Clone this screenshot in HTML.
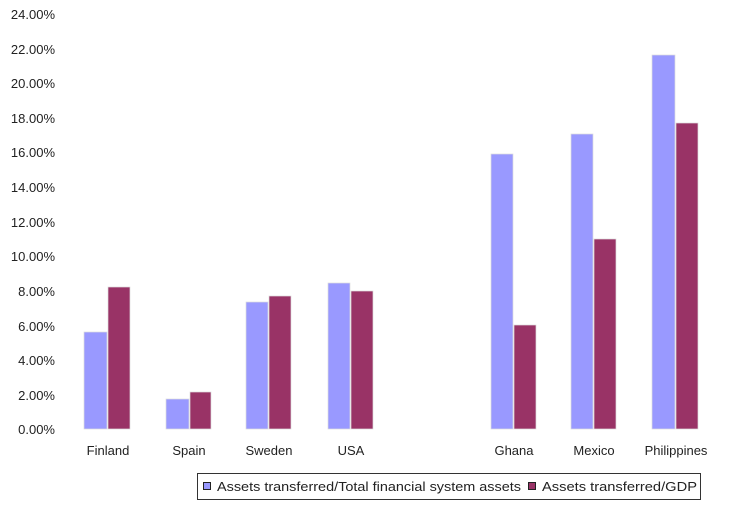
<!DOCTYPE html>
<html><head><style>
body{margin:0;background:#fff;}
svg{display:block;font-family:"Liberation Sans",sans-serif;}
</style></head><body>
<svg width="750" height="512" xmlns="http://www.w3.org/2000/svg">
<g font-size="13" fill="#222" text-anchor="end">
<text x="55" y="434">0.00%</text>
<text x="55" y="400">2.00%</text>
<text x="55" y="365">4.00%</text>
<text x="55" y="331">6.00%</text>
<text x="55" y="296">8.00%</text>
<text x="55" y="261">10.00%</text>
<text x="55" y="227">12.00%</text>
<text x="55" y="192">14.00%</text>
<text x="55" y="157">16.00%</text>
<text x="55" y="123">18.00%</text>
<text x="55" y="88">20.00%</text>
<text x="55" y="54">22.00%</text>
<text x="55" y="19">24.00%</text>
</g>
<g stroke="#ddd" stroke-width="0.7">
<rect x="84" y="332" width="23" height="97" fill="#9999ff"/>
<rect x="108" y="287" width="22" height="142" fill="#993366"/>
<rect x="166" y="399" width="23" height="30" fill="#9999ff"/>
<rect x="190" y="392" width="21" height="37" fill="#993366"/>
<rect x="246" y="302" width="22" height="127" fill="#9999ff"/>
<rect x="269" y="296" width="22" height="133" fill="#993366"/>
<rect x="328" y="283" width="22" height="146" fill="#9999ff"/>
<rect x="351" y="291" width="22" height="138" fill="#993366"/>
<rect x="491" y="154" width="22" height="275" fill="#9999ff"/>
<rect x="514" y="325" width="22" height="104" fill="#993366"/>
<rect x="571" y="134" width="22" height="295" fill="#9999ff"/>
<rect x="594" y="239" width="22" height="190" fill="#993366"/>
<rect x="652" y="55" width="23" height="374" fill="#9999ff"/>
<rect x="676" y="123" width="22" height="306" fill="#993366"/>
</g>
<g font-size="13" fill="#222" text-anchor="middle">
<text x="108" y="455">Finland</text>
<text x="189" y="455">Spain</text>
<text x="269" y="455">Sweden</text>
<text x="351" y="455">USA</text>
<text x="514" y="455">Ghana</text>
<text x="594" y="455">Mexico</text>
<text x="676" y="455">Philippines</text>
</g>
<rect x="197.5" y="473.5" width="503" height="26" fill="#fff" stroke="#333"/>
<rect x="203.5" y="482.5" width="7" height="7" fill="#9999ff" stroke="#222"/>
<rect x="528.5" y="482.5" width="7" height="7" fill="#993366" stroke="#222"/>
<g font-size="13" fill="#222">
<text x="217" y="491" textLength="304" lengthAdjust="spacingAndGlyphs">Assets transferred/Total financial system assets</text>
<text x="542" y="491" textLength="155" lengthAdjust="spacingAndGlyphs">Assets transferred/GDP</text>
</g>
</svg>
</body></html>
